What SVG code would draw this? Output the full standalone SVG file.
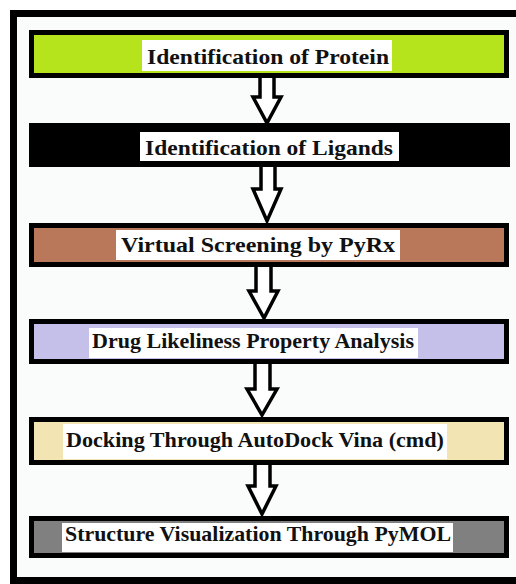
<svg xmlns="http://www.w3.org/2000/svg" width="516" height="584" viewBox="0 0 516 584">
<style>
.box{stroke:#000;stroke-width:5}
.lbl{fill:#fff}
.t{font-family:"Liberation Serif","Times New Roman",serif;font-weight:bold;font-size:22px;fill:#111;text-anchor:middle}
.arr{fill:#fff;stroke:#000;stroke-width:3.5;stroke-linejoin:miter}
</style>
<rect x="0" y="0" width="516" height="584" fill="#fff"/>
<rect x="13.5" y="13.5" width="510" height="567" fill="#fafcfb" stroke="#000" stroke-width="7"/>
<g id="connectors">
<path class="arr" d="M260,78 V97 H253 L267,123 L281,97 H274 V78"/>
<path class="arr" d="M261,167 V189 H253 L267,221 L281,189 H275 V167"/>
<path class="arr" d="M256,267 V291 H249 L264,318 L278,291 H271 V267"/>
<path class="arr" d="M255,364 V389 H247 L262,415 L277,389 H270 V364"/>
<path class="arr" d="M255,465 V486 H248 L262,514 L276,486 H270 V465"/>
</g>
<g id="n1">
<rect class="box" x="31.5" y="32.5" width="475" height="43" fill="#b5e31c"/>
<rect class="lbl" x="142" y="40" width="250" height="31"/>
<text class="t" x="268" y="64" textLength="242" lengthAdjust="spacingAndGlyphs">Identification of Protein</text>
</g>
<g id="n2">
<rect class="box" x="31.5" y="125.5" width="476" height="39" fill="#000"/>
<rect class="lbl" x="140" y="132" width="259" height="29"/>
<text class="t" x="269" y="155" textLength="248" lengthAdjust="spacingAndGlyphs">Identification of Ligands</text>
</g>
<g id="n3">
<rect class="box" x="31.5" y="225.5" width="475" height="39" fill="#b9785a"/>
<rect class="lbl" x="116" y="230" width="284" height="30"/>
<text class="t" x="258" y="252" textLength="274" lengthAdjust="spacingAndGlyphs">Virtual Screening by PyRx</text>
</g>
<g id="n4">
<rect class="box" x="31.5" y="321.5" width="475" height="40" fill="#c5c0ea"/>
<rect class="lbl" x="89" y="328" width="329" height="30"/>
<text class="t" x="253" y="348" textLength="322" lengthAdjust="spacingAndGlyphs">Drug Likeliness Property Analysis</text>
</g>
<g id="n5">
<rect class="box" x="31.5" y="419.5" width="475" height="43" fill="#f3e4b4"/>
<rect class="lbl" x="63" y="424" width="384" height="35"/>
<text class="t" x="255" y="447" textLength="378" lengthAdjust="spacingAndGlyphs">Docking Through AutoDock Vina (cmd)</text>
</g>
<g id="n6">
<rect class="box" x="31.5" y="518.5" width="475" height="37" fill="#808080"/>
<rect class="lbl" x="62" y="523" width="391" height="29"/>
<text class="t" x="258" y="541" textLength="386" lengthAdjust="spacingAndGlyphs">Structure Visualization Through PyMOL</text>
</g>
</svg>
